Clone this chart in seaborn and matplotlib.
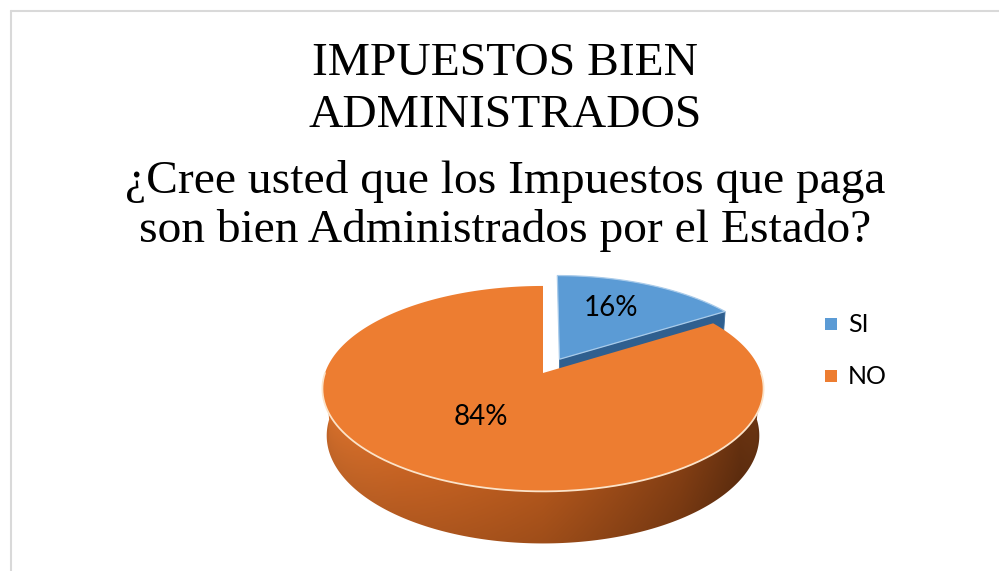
import numpy as np
import matplotlib
matplotlib.use("Agg")
import matplotlib.pyplot as plt
from matplotlib.patches import Polygon, Rectangle
import seaborn as sns

# ---------------- data ----------------
categories = ["SI", "NO"]
values = [16, 84]
colors_hex = ["#5B9BD5", "#ED7D31"]
title_lines = ["IMPUESTOS BIEN", "ADMINISTRADOS",
               "¿Cree usted que los Impuestos que paga",
               "son bien Administrados por el Estado?"]

sns.set_theme(style="white")
palette = sns.color_palette(colors_hex)

W, H = 999, 571
fig = plt.figure(figsize=(W / 100, H / 100), dpi=100)
ax = fig.add_axes([0, 0, 1, 1])
ax.set_xlim(0, W)
ax.set_ylim(H, 0)
ax.axis("off")

# light frame (left + top)
ax.plot([11, 11], [11, H], color="#D9D9D9", lw=1.5)
ax.plot([11, W], [11, 11], color="#D9D9D9", lw=1.5)

# ---------------- 3D projection ----------------
CX, CY, S = 543, 373, 218
ELEV = np.radians(27.4)
DIST = 5.82
THICK = 0.245
se, ce = np.sin(ELEV), np.cos(ELEV)


def proj(x, z, h):
    x, z, h = np.asarray(x, float), np.asarray(z, float), np.asarray(h, float)
    v = h * ce - z * se
    d = DIST - (z * ce + h * se)
    return CX + S * x * DIST / d, CY - S * v * DIST / d


def rim(phi_deg, off=(0, 0), r=1.0):
    p = np.radians(phi_deg)
    return r * np.cos(p) + off[0], -r * np.sin(p) + off[1]


total = sum(values)
angles = []
start = 90.0
for v in values:
    sweep = 360.0 * v / total
    angles.append((start, start - sweep))
    start -= sweep

explode = [0.16, 0.0]
offsets = []
for (a0, a1), e in zip(angles, explode):
    mid = np.radians((a0 + a1) / 2)
    offsets.append((e * np.cos(mid), -e * np.sin(mid)))

# ---- blue slice (exploded) : visible radial side face + top ----
a0, a1 = angles[0]
off = offsets[0]
rx, rz = rim(a1, off)
side = [proj(off[0], off[1], 0), proj(rx, rz, 0), proj(rx, rz, -THICK), proj(off[0], off[1], -THICK)]
ax.add_patch(Polygon([(float(a), float(b)) for a, b in side], closed=True,
                     facecolor="#2F5F8F", edgecolor="#3C6E9E", lw=0.6, zorder=2))
phis = np.linspace(a0, a1, 80)
xs, zs = rim(phis, off)
px, py = proj(xs, zs, np.zeros_like(xs))
c0 = proj(off[0], off[1], 0)
pts = [(float(c0[0]), float(c0[1]))] + list(zip(px, py))
ax.add_patch(Polygon(pts, closed=True, facecolor=palette[0],
                     edgecolor="#A9CBEA", lw=0.9, zorder=3))

# ---- orange slice : front wall with smooth gradient ----
a0, a1 = angles[1]
off = offsets[1]
lo = max(a1, -180.0)
hi = min(a0, 0.0)
phi_front = np.linspace(lo, hi, 400)
xs, zs = rim(phi_front, off)
tx_, ty_ = proj(xs, zs, np.zeros_like(xs))
bx_, by_ = proj(xs, zs, np.full_like(xs, -THICK))
wall_pts = list(zip(tx_, ty_)) + list(zip(bx_[::-1], by_[::-1]))
wall = Polygon(wall_pts, closed=True, facecolor="none", edgecolor="none", zorder=4)
ax.add_patch(wall)

gx0, gx1 = float(min(tx_.min(), bx_.min())) - 2, float(max(tx_.max(), bx_.max())) + 2
gy0, gy1 = float(min(ty_.min(), by_.min())) - 2, float(max(ty_.max(), by_.max())) + 2
nx, ny = 500, 200
gxs = np.linspace(gx0, gx1, nx)
gys = np.linspace(gy0, gy1, ny)
key_x = np.array([325, 400, 543, 680, 740, 765])
key_col = np.array([[214, 112, 44], [200, 100, 36], [176, 86, 28],
                    [132, 63, 20], [102, 49, 16], [112, 56, 20]]) / 255.0
colrow = np.stack([np.interp(gxs, key_x, key_col[:, k]) for k in range(3)], axis=1)
order_t = np.argsort(tx_)
order_b = np.argsort(bx_)
top_y = np.interp(gxs, tx_[order_t], ty_[order_t])
bot_y = np.interp(gxs, bx_[order_b], by_[order_b])
frac = np.clip((gys[:, None] - top_y[None, :]) / np.maximum(bot_y - top_y, 1)[None, :], 0, 1)
shade = 1.0 - 0.10 * frac
img = np.clip(colrow[None, :, :] * shade[:, :, None], 0, 1)
im = ax.imshow(img, extent=(gx0, gx1, gy1, gy0), origin="upper",
               interpolation="bilinear", zorder=4, aspect="auto")
im.set_clip_path(wall)
ax.set_xlim(0, W)
ax.set_ylim(H, 0)

# orange top face
phis = np.linspace(a0, a1, 400)
xs2, zs2 = rim(phis, off)
px, py = proj(xs2, zs2, np.zeros_like(xs2))
c0 = proj(off[0], off[1], 0)
pts = [(float(c0[0]), float(c0[1]))] + list(zip(px, py))
ax.add_patch(Polygon(pts, closed=True, facecolor=palette[1], edgecolor="none", zorder=5))

# rim highlight on the front edge
ax.plot(tx_, ty_, color="#FBE3C9", lw=1.3, zorder=6, solid_capstyle="round")

# ---------------- percentage labels ----------------
for (a0, a1), off, v in zip(angles, offsets, values):
    mid = (a0 + a1) / 2
    lx, lz = rim(mid, off, r=0.55)
    tx, ty = proj(lx, lz, 0)
    ax.text(float(tx), float(ty) - 8, f"{round(100 * v / total)}%", fontsize=20,
            family="Lato", ha="center", va="center", color="#000000", zorder=8)

# ---------------- legend ----------------
for i, (cat, col) in enumerate(zip(categories, palette)):
    y = 323.5 + 52 * i
    ax.add_patch(Rectangle((825, y - 6), 12, 12, facecolor=col, edgecolor="none", zorder=8))
    ax.text(848, y + 1, cat, fontsize=18, family="Lato", ha="left", va="center",
            color="#000000", zorder=8)

# ---------------- title ----------------
baselines = [75, 127, 193, 242]
for line, yb in zip(title_lines, baselines):
    ax.text(505, yb, line, fontsize=34.2, family="Liberation Serif",
            ha="center", va="baseline", color="#000000")

fig.savefig("out.png", dpi=100, facecolor="white")
